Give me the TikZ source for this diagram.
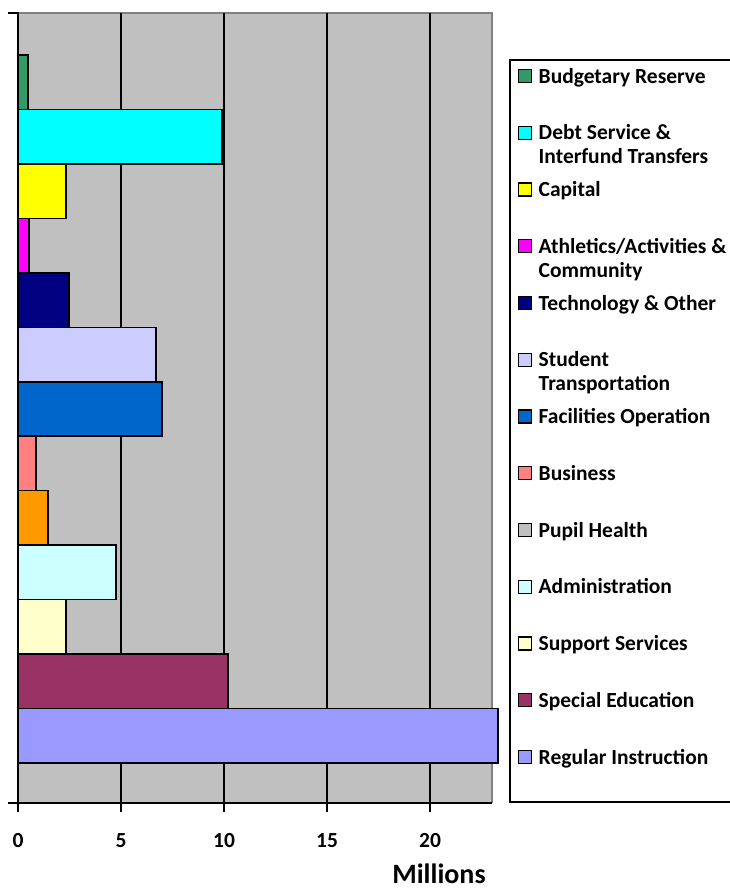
\documentclass[tikz,border=0pt]{standalone}
\usepackage{fontspec}
\setmainfont{Carlito}
\usetikzlibrary{positioning}

\definecolor{plotbg}{HTML}{C0C0C0}
\definecolor{frame}{HTML}{808080}
\definecolor{reserve}{HTML}{339966}
\definecolor{debt}{HTML}{00FFFF}
\definecolor{capital}{HTML}{FFFF00}
\definecolor{athletics}{HTML}{FF00FF}
\definecolor{tech}{HTML}{000080}
\definecolor{transport}{HTML}{CCCCFF}
\definecolor{facilities}{HTML}{0066CC}
\definecolor{business}{HTML}{FF8080}
\definecolor{health}{HTML}{FF9900}
\definecolor{admin}{HTML}{CCFFFF}
\definecolor{support}{HTML}{FFFFCC}
\definecolor{speced}{HTML}{993366}
\definecolor{regular}{HTML}{9999FF}

\newcommand{\twolines}[2]{\begin{tabular}[t]{@{}l@{}}#1\\#2\end{tabular}}

\begin{document}
\begin{tikzpicture}[x=1pt, y=-1pt, line width=1.4pt,
  bar/.style = {draw=black, line width=1.5pt},
  swatch/.style = {draw, line width=1.3pt, minimum size=13pt, inner sep=0pt},
  legtext/.style = {font=\fontsize{21.5}{24}\selectfont\bfseries, inner sep=0pt, anchor=base west},
  ticklab/.style = {font=\fontsize{21.5}{24}\selectfont\bfseries, inner sep=0pt, anchor=base}]

\useasboundingbox (0,0) rectangle (729,892);

% plot area
\fill[plotbg] (18,13) rectangle (492,803);
\draw[frame] (18,13) -- (492,13) -- (492,803);
\foreach \v in {5,10,15,20}
  \draw ({18+20.6*\v},13) -- ({18+20.6*\v},803);

% bars
\foreach \val/\col [count=\i from 0] in {0.49/reserve, 9.9/debt, 2.33/capital, 0.53/athletics,
    2.48/tech, 6.7/transport, 6.99/facilities, 0.88/business, 1.46/health,
    4.76/admin, 2.33/support, 10.2/speced, 23.3/regular}
  \draw[bar, fill=\col] (18,{55+54.46*\i}) rectangle ({18+20.6*\val},{55+54.46*(\i+1)});

% axes
\draw (8,13) -- (18,13) -- (18,803);
\draw (8,803) -- (492,803);
\foreach \v in {0,5,10,15,20} {
  \draw ({18+20.6*\v},803) -- ({18+20.6*\v},812);
  \node[ticklab] (tick\v) at ({18+20.6*\v},847) {\v};
}
\node[font=\fontsize{28}{32}\selectfont\bfseries, inner sep=0pt, anchor=base] (unit) at (439,883) {Millions};

% legend
\draw (740,60) -- (510,60) -- (510,802) -- (740,802);
\foreach \col/\txt [count=\k from 0] in {reserve/{Budgetary Reserve},
    debt/{\twolines{Debt Service \&}{Interfund Transfers}}, capital/{Capital},
    athletics/{\twolines{Athletics/Activities \&}{Community}}, tech/{Technology \& Other},
    transport/{\twolines{Student}{Transportation}}, facilities/{Facilities Operation},
    business/{Business}, plotbg/{Pupil Health}, admin/{Administration},
    support/{Support Services}, speced/{Special Education}, regular/{Regular Instruction}} {
  \node[swatch, fill=\col] (sw\k) at (525,{76+56.75*\k}) {};
  \node[legtext] (lab\k) at (538,{83+56.75*\k}) {\txt};
}

\end{tikzpicture}
\end{document}
